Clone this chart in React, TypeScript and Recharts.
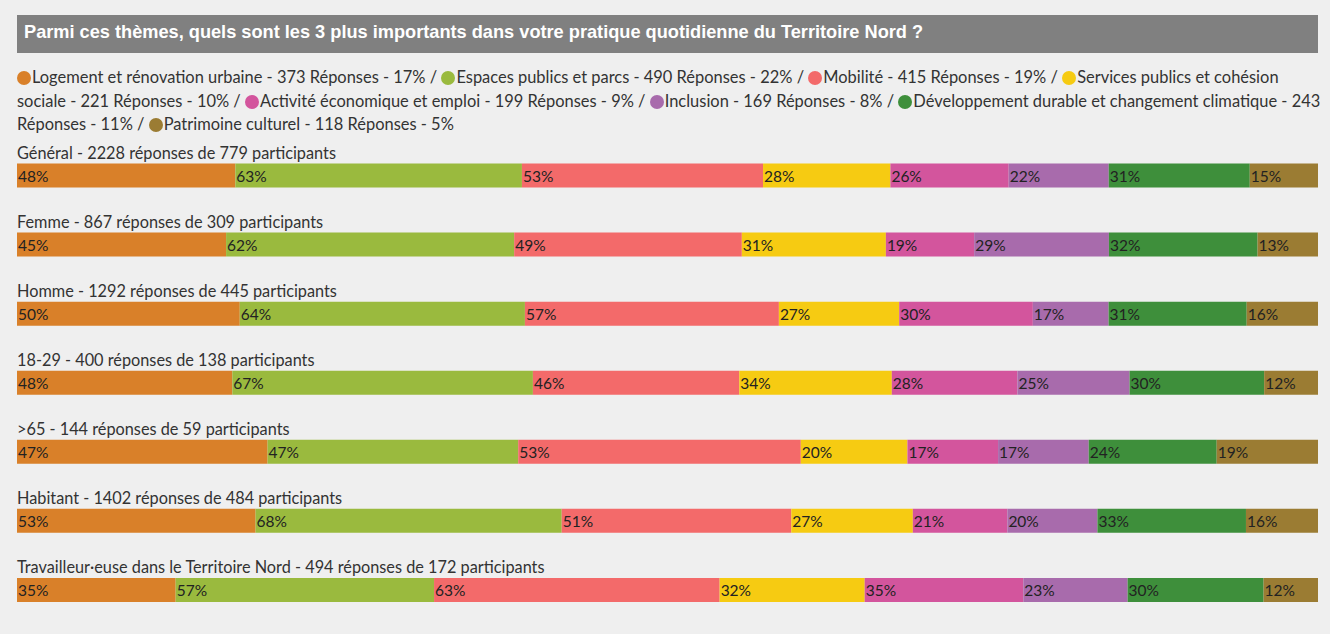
import { BarChart, Bar, XAxis, YAxis, LabelList } from "recharts";

const lignes = [
  "Général - 2228 réponses de 779 participants",
  "Femme - 867 réponses de 309 participants",
  "Homme - 1292 réponses de 445 participants",
  "18-29 - 400 réponses de 138 participants",
  ">65 - 144 réponses de 59 participants",
  "Habitant - 1402 réponses de 484 participants",
  "Travailleur·euse dans le Territoire Nord - 494 réponses de 172 participants",
];

const themes = [
  "Logement et rénovation urbaine",
  "Espaces publics et parcs",
  "Mobilité",
  "Services publics et cohésion sociale",
  "Activité économique et emploi",
  "Inclusion",
  "Développement durable et changement climatique",
  "Patrimoine culturel",
];
const reponsesTheme = [373, 490, 415, 221, 199, 169, 243, 118];
const partTheme = [17, 22, 19, 10, 9, 8, 11, 5];
const couleurs = ["#d98029", "#9aba3e", "#f36a6a", "#f6cb12", "#d3559d", "#a86bac", "#3e8f3b", "#9b7c33"];

const logement = [48, 45, 50, 48, 47, 53, 35];
const espaces = [63, 62, 64, 67, 47, 68, 57];
const mobilite = [53, 49, 57, 46, 53, 51, 63];
const services = [28, 31, 27, 34, 20, 27, 32];
const activite = [26, 19, 30, 28, 17, 21, 35];
const inclusion = [22, 29, 17, 25, 17, 20, 23];
const developpement = [31, 32, 31, 30, 24, 33, 30];
const patrimoine = [15, 13, 16, 12, 19, 16, 12];

const series = [logement, espaces, mobilite, services, activite, inclusion, developpement, patrimoine];
const cles = series.map((_, i) => `t${i}`);

const donnees = lignes.map((ligne, r) => {
  const point: Record<string, string | number> = { ligne };
  series.forEach((s, i) => (point[cles[i]] = s[r]));
  return point;
});

const police = "Lato, 'Open Sans', sans-serif";

// titre de la ligne, posé au-dessus de la barre
function TitreLigne({ x, y, value }: any) {
  return (
    <text x={x} y={y - 5} fontFamily={police} fontSize={16.3} fill="#333">
      {value}
    </text>
  );
}

function Pourcent({ x, y, height, value }: any) {
  return (
    <text x={x + 1} y={y + height / 2 + 6} fontFamily={police} fontSize={15.5} fill="#222">
      {`${value}%`}
    </text>
  );
}

export default function App() {
  return (
    <div style={{ position: "absolute", left: 0, top: 0, width: 1330, height: 634, background: "#efefef", overflow: "hidden" }}>
      <div
        style={{
          position: "absolute", left: 17, top: 15, width: 1301, height: 38, background: "#808080",
          color: "#fff", fontFamily: "'Liberation Sans', Arial, sans-serif", fontWeight: "bold",
          fontSize: 18.2, lineHeight: "35px", paddingLeft: 7, boxSizing: "border-box", whiteSpace: "nowrap",
        }}
      >
        Parmi ces thèmes, quels sont les 3 plus importants dans votre pratique quotidienne du Territoire Nord ?
      </div>

      <div
        style={{
          position: "absolute", left: 17, top: 66, width: 1308, fontFamily: police, fontSize: 16.45,
          lineHeight: "23.5px", color: "#333",
        }}
      >
        {themes.map((t, i) => (
          <span key={t}>
            <span
              style={{
                display: "inline-block", width: 14, height: 14, borderRadius: "50%",
                background: couleurs[i], verticalAlign: -2, marginRight: 1,
              }}
            />
            {`${t} - ${reponsesTheme[i]} Réponses - ${partTheme[i]}%`}
            {i < themes.length - 1 ? " / " : ""}
          </span>
        ))}
      </div>

      <div style={{ position: "absolute", left: 0, top: 140 }}>
        <BarChart
          width={1330}
          height={484}
          data={donnees}
          layout="vertical"
          stackOffset="expand"
          barSize={24}
          margin={{ top: 0.5, right: 12, bottom: 0, left: 17 }}
        >
          <XAxis type="number" hide domain={[0, 1]} />
          <YAxis type="category" dataKey="ligne" hide />
          {cles.map((k, i) => (
            <Bar key={k} dataKey={k} stackId="a" fill={couleurs[i]} isAnimationActive={false}>
              {i === 0 && <LabelList dataKey="ligne" content={<TitreLigne />} />}
              <LabelList dataKey={k} content={<Pourcent />} />
            </Bar>
          ))}
        </BarChart>
      </div>
    </div>
  );
}
